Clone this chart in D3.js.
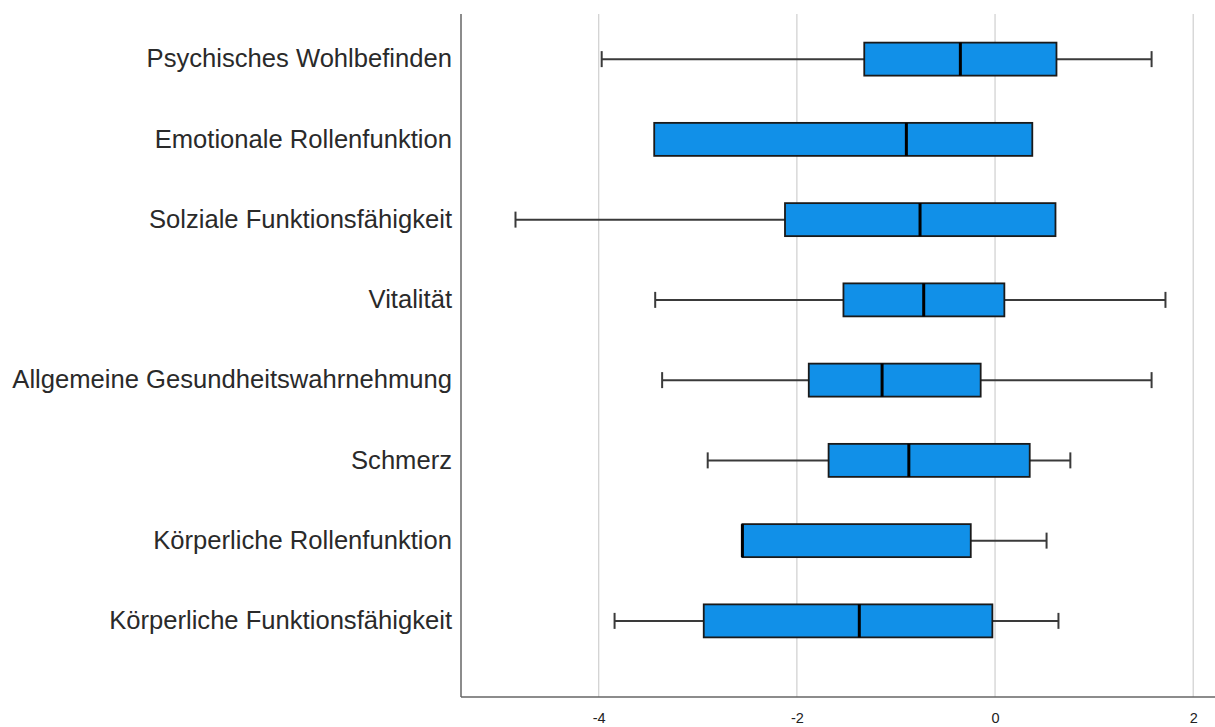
<!DOCTYPE html>
<html>
<head>
<meta charset="utf-8">
<script src="https://cdn.jsdelivr.net/npm/d3@7/dist/d3.min.js"></script>
<style>
  html, body { margin: 0; padding: 0; background: #fff; }
  svg { display: block; }
</style>
</head>
<body>
<svg id="chart" width="1215" height="727"></svg>
<script>
// SF-36 subscales (z-scores): five-number summaries per scale
const categories = [
  "Psychisches Wohlbefinden",
  "Emotionale Rollenfunktion",
  "Solziale Funktionsfähigkeit",
  "Vitalität",
  "Allgemeine Gesundheitswahrnehmung",
  "Schmerz",
  "Körperliche Rollenfunktion",
  "Körperliche Funktionsfähigkeit"
];
const whiskerLow  = [-3.97, -3.44, -4.84, -3.43, -3.36, -2.90, -2.55, -3.84];
const q1          = [-1.32, -3.44, -2.12, -1.53, -1.88, -1.68, -2.55, -2.94];
const median      = [-0.35, -0.895, -0.757, -0.72, -1.14, -0.87, -2.55, -1.37];
const q3          = [ 0.62,  0.376,  0.61,  0.094, -0.145, 0.35, -0.245, -0.027];
const whiskerHigh = [ 1.58,  0.376,  0.61,  1.72,  1.58,  0.76,  0.52,  0.64];
const xTicks = [-4, -2, 0, 2];

const rows = categories.map((c, i) => ({
  name: c, lo: whiskerLow[i], q1: q1[i], med: median[i], q3: q3[i], hi: whiskerHigh[i]
}));

const svg = d3.select("#chart");
const plotLeft = 461, plotRight = 1215, plotTop = 14, plotBottom = 697;

const x = d3.scaleLinear().domain([-5.39, 2.22]).range([plotLeft, plotRight]);
const y = d3.scaleBand().domain(categories).range([19, 661]);
const boxH = 33, capH = 16;

// vertical gridlines
svg.append("g")
  .selectAll("line")
  .data(xTicks)
  .join("line")
  .attr("x1", d => x(d)).attr("x2", d => x(d))
  .attr("y1", plotTop).attr("y2", plotBottom)
  .attr("stroke", "#cfcfcf").attr("stroke-width", 1.2);

// x axis (labels only, no tick marks)
const xAxis = svg.append("g")
  .attr("transform", `translate(0,${plotBottom})`)
  .call(d3.axisBottom(x).tickValues(xTicks).tickSize(0).tickPadding(16).tickFormat(d => String(d)));
xAxis.select(".domain").remove();
xAxis.selectAll("text")
  .attr("font-family", "Liberation Sans, Arial, sans-serif")
  .attr("font-size", 14.5).attr("fill", "#222");

// y axis labels
const yAxis = svg.append("g")
  .attr("transform", `translate(${plotLeft},0)`)
  .call(d3.axisLeft(y).tickSize(0).tickPadding(9));
yAxis.select(".domain").remove();
yAxis.selectAll("text")
  .attr("font-family", "Liberation Sans, Arial, sans-serif")
  .attr("font-size", 25.6).attr("fill", "#2a2a2a");

// axis frame lines
svg.append("line")
  .attr("x1", plotLeft).attr("x2", plotLeft)
  .attr("y1", plotTop).attr("y2", plotBottom)
  .attr("stroke", "#666").attr("stroke-width", 1.5);
svg.append("line")
  .attr("x1", plotLeft).attr("x2", plotRight)
  .attr("y1", plotBottom).attr("y2", plotBottom)
  .attr("stroke", "#666").attr("stroke-width", 1.5);

const g = svg.append("g").selectAll("g").data(rows).join("g")
  .attr("transform", d => `translate(0,${y(d.name) + y.bandwidth() / 2})`);

// whiskers
g.append("line")
  .attr("x1", d => x(d.lo)).attr("x2", d => x(d.q1))
  .attr("stroke", "#3a3a3a").attr("stroke-width", 2)
  .attr("display", d => d.lo < d.q1 ? null : "none");
g.append("line")
  .attr("x1", d => x(d.q3)).attr("x2", d => x(d.hi))
  .attr("stroke", "#3a3a3a").attr("stroke-width", 2)
  .attr("display", d => d.hi > d.q3 ? null : "none");
g.append("line")
  .attr("x1", d => x(d.lo)).attr("x2", d => x(d.lo))
  .attr("y1", -capH / 2).attr("y2", capH / 2)
  .attr("stroke", "#3a3a3a").attr("stroke-width", 2)
  .attr("display", d => d.lo < d.q1 ? null : "none");
g.append("line")
  .attr("x1", d => x(d.hi)).attr("x2", d => x(d.hi))
  .attr("y1", -capH / 2).attr("y2", capH / 2)
  .attr("stroke", "#3a3a3a").attr("stroke-width", 2)
  .attr("display", d => d.hi > d.q3 ? null : "none");

// boxes
g.append("rect")
  .attr("x", d => x(d.q1)).attr("width", d => x(d.q3) - x(d.q1))
  .attr("y", -boxH / 2).attr("height", boxH)
  .attr("fill", "#1190e8").attr("stroke", "#1a1a1a").attr("stroke-width", 1.8);

// medians
g.append("line")
  .attr("x1", d => x(d.med)).attr("x2", d => x(d.med))
  .attr("y1", -boxH / 2).attr("y2", boxH / 2)
  .attr("stroke", "#000").attr("stroke-width", 3);
</script>
</body>
</html>
